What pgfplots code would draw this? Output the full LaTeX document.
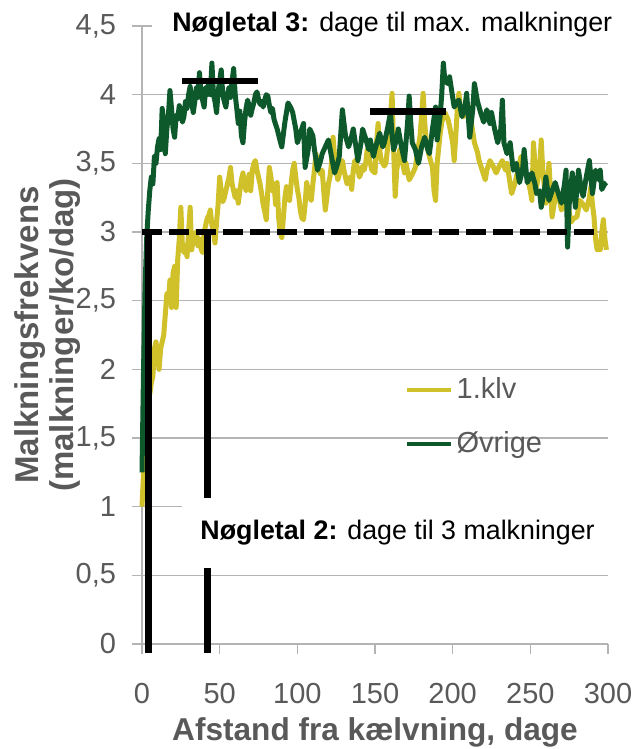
\documentclass[border=0pt]{standalone}
\usepackage{fontspec}
\setmainfont{Liberation Sans}
\usepackage{pgfplots}
\pgfplotsset{compat=1.18}

\definecolor{klv}{RGB}{208,192,42}
\definecolor{ovr}{RGB}{14,89,44}
\definecolor{gridgray}{RGB}{180,180,180}
\definecolor{labelgray}{RGB}{89,89,89}

\begin{document}
\begin{tikzpicture}
\useasboundingbox (-71bp,-52.5bp) rectangle (246.5bp,322bp);
\begin{axis}[
    at={(0,0)}, anchor=south west,
    scale only axis, width=233bp, height=309bp,
    xmin=0, xmax=300, ymin=0, ymax=4.5,
    xtick={0,50,...,300},
    ytick={0,0.5,...,4.5},
    clip=false,
    axis lines*=left,
    axis line style={gridgray, line width=0.8bp},
    ymajorgrids=true,
    grid style={gridgray, line width=0.8bp},
    tick align=outside,
    major tick length=5bp,
    tick style={gridgray, line width=0.8bp},
    /pgf/number format/use comma,
    /pgf/number format/assume math mode=true,
    ticklabel style={font=\fontsize{14.5bp}{17bp}\selectfont, text=labelgray},
    xticklabel style={anchor=base, yshift=-24.5bp},
    yticklabel style={anchor=east, xshift=-4.5bp},
    xlabel={Afstand fra kælvning, dage},
    xlabel style={font=\fontsize{15.8bp}{18bp}\selectfont\bfseries, text=labelgray,
        at={(axis description cs:0.5,-0.143)}, anchor=center},
    ylabel={Malkningsfrekvens\\(malkninger/ko/dag)},
    ylabel style={font=\fontsize{16.5bp}{17.5bp}\selectfont\bfseries, text=labelgray,
        align=center, at={(axis description cs:-0.2028,0.5)}, anchor=center},
    legend style={at={(axis cs:165,2.0)}, anchor=north west, draw=none, fill=none,
        font=\fontsize{14.5bp}{17bp}\selectfont, text=labelgray, row sep=11bp},
    legend cell align=left,
    legend image code/.code={\draw[#1, line width=2bp] (0bp,0bp) -- (22bp,0bp);},
]

% 1.klv
\addplot[klv, line width=2.5bp, line join=round] coordinates {
(0,1.0) (1,1.25) (2,1.55) (3,1.75) (4,1.85) (5,1.82) (6,1.9) (7,1.95) (8,2.15) (9,2.2)
(10,2.1) (11,2.0) (12,2.15) (13,2.2) (14,2.25) (15,2.4) (16,2.55) (17,2.5) (18,2.65) (19,2.45)
(20,2.7) (21,2.75) (22,2.45) (23,2.8) (24,2.95) (25,3.18) (26,2.9) (27,2.85) (28,2.9) (29,2.82)
(30,3.0) (31,3.18) (32,2.87) (33,2.95) (34,2.92) (35,3.0) (36,2.9) (37,2.95) (38,2.88) (39,2.85)
(40,3.0) (41,3.05) (42,3.1) (43,3.12) (44,3.16) (45,3.05) (46,3.0) (47,2.92) (48,3.07) (49,3.2)
(50,3.4) (51,3.3) (52,3.22) (53,3.25) (54,3.3) (55,3.35) (56,3.4) (57,3.47) (58,3.35) (59,3.3)
(60,3.25) (61,3.3) (62,3.21) (63,3.3) (64,3.38) (65,3.43) (66,3.35) (67,3.3) (68,3.35) (69,3.42)
(70,3.3) (71,3.45) (72,3.5) (73,3.52) (74,3.45) (75,3.4) (76,3.35) (77,3.28) (78,3.2) (79,3.15)
(80,3.09) (81,3.3) (82,3.47) (83,3.4) (84,3.3) (85,3.35) (86,3.2) (87,3.36) (88,3.1) (89,3.0)
(90,2.96) (91,3.1) (92,3.25) (93,3.33) (94,3.28) (95,3.23) (96,3.35) (97,3.45) (98,3.5) (99,3.4)
(100,3.31) (101,3.25) (102,3.15) (103,3.1) (104,3.09) (105,3.2) (106,3.36) (107,3.3) (108,3.25) (109,3.23)
(110,3.35) (111,3.45) (112,3.57) (113,3.5) (114,3.45) (115,3.42) (116,3.45) (117,3.3) (118,3.16) (119,3.25)
(120,3.35) (121,3.4) (122,3.5) (123,3.69) (124,3.55) (125,3.45) (126,3.38) (127,3.42) (128,3.48) (129,3.52)
(130,3.45) (131,3.4) (132,3.35) (133,3.38) (134,3.4) (135,3.31) (136,3.45) (137,3.52) (138,3.5) (139,3.45)
(140,3.4) (141,3.43) (142,3.48) (143,3.45) (144,3.5) (145,3.6) (146,3.55) (147,3.5) (148,3.45) (150,3.43)
(151,3.65) (152,3.79) (153,3.6) (154,3.52) (156,3.48) (157,3.5) (158,3.6) (159,3.75) (160,3.85) (161,4.01)
(162,3.6) (163,3.26) (164,3.45) (166,3.6) (167,3.55) (169,3.43) (170,3.5) (172,3.38) (174,3.42) (176,3.47)
(177,3.55) (179,3.7) (180,3.85) (181,4.01) (182,3.8) (183,3.65) (185,3.55) (187,3.47) (188,3.3) (189,3.23)
(190,3.5) (192,3.72) (193,3.8) (195,3.87) (197,3.82) (198,3.77) (200,3.65) (201,3.52) (202,3.7) (203,3.9)
(204,4.01) (205,3.9) (207,3.84) (209,3.88) (211,3.91) (212,3.8) (214,3.65) (216,3.58) (217,3.52) (219,3.45)
(221,3.38) (222,3.45) (224,3.52) (226,3.48) (228,3.43) (230,3.48) (232,3.52) (234,3.45) (235,3.5) (237,3.35)
(238,3.28) (240,3.35) (241,3.4) (243,3.5) (244,3.55) (246,3.45) (248,3.4) (250,3.3) (251,3.23) (252,3.65)
(253,3.5) (254,3.33) (256,3.45) (257,3.67) (258,3.45) (260,3.21) (261,3.35) (262,3.5) (263,3.3) (264,3.11)
(266,3.25) (267,3.31) (269,3.22) (270,3.16) (272,3.2) (273,3.26) (275,3.15) (276,3.07) (278,3.1) (280,3.11)
(282,3.23) (284,3.2) (286,3.16) (288,3.25) (289,3.33) (290,3.2) (291,3.11) (292,2.95) (293,2.87) (294,2.88)
(295,2.87) (296,3.0) (297,3.09) (298,2.95) (299,2.87)
};
\addlegendentry{1.klv}

% Øvrige
\addplot[ovr, line width=2.5bp, line join=round] coordinates {
(0,1.25) (1,2.0) (2,2.6) (3,2.95) (4,3.15) (5,3.3) (6,3.4) (7,3.35) (8,3.55) (9,3.5)
(10,3.62) (11,3.68) (12,3.6) (13,3.9) (14,3.8) (15,3.57) (16,3.75) (17,3.85) (18,4.03) (19,3.9)
(20,3.75) (21,3.69) (22,3.85) (23,3.82) (24,3.92) (25,3.88) (26,3.8) (27,3.84) (28,3.95) (29,3.9)
(30,4.0) (31,4.06) (32,3.95) (33,3.87) (34,3.95) (35,4.05) (36,3.98) (37,4.16) (38,4.0) (39,3.96)
(40,3.91) (41,4.05) (42,4.0) (43,4.1) (44,4.0) (45,4.23) (46,4.0) (47,3.95) (48,3.87) (49,4.02)
(50,4.1) (51,4.18) (52,4.0) (53,3.95) (54,3.91) (55,4.0) (56,4.05) (57,3.98) (58,4.1) (59,4.19)
(60,4.0) (61,3.9) (62,3.79) (63,3.88) (64,3.7) (65,3.65) (66,3.8) (67,3.9) (68,3.96) (69,3.92)
(70,3.85) (71,3.9) (72,3.94) (73,4.0) (74,4.02) (75,3.97) (76,3.93) (77,3.95) (78,3.91) (79,3.96)
(80,4.0) (81,3.99) (82,3.92) (83,3.87) (84,3.9) (85,3.82) (87,3.75) (89,3.66) (90,3.62) (92,3.8)
(94,3.94) (96,3.9) (97,3.87) (99,3.75) (100,3.65) (102,3.72) (104,3.79) (105,3.47) (107,3.6) (108,3.75)
(110,3.7) (111,3.6) (113,3.45) (115,3.52) (116,3.57) (118,3.62) (120,3.67) (122,3.55) (124,3.43) (126,3.5)
(127,3.55) (129,3.89) (131,3.7) (133,3.62) (135,3.7) (136,3.75) (138,3.6) (139,3.52) (141,3.65) (142,3.75)
(144,3.68) (146,3.6) (147,3.67) (149,3.55) (150,3.6) (152,3.68) (153,3.72) (155,3.62) (156,3.65) (158,3.75)
(160,3.87) (161,3.7) (162,3.6) (164,3.68) (165,3.75) (167,3.62) (169,3.52) (171,3.8) (172,3.99) (173,3.8)
(174,3.65) (176,3.6) (178,3.5) (180,3.62) (182,3.69) (184,3.6) (185,3.57) (187,3.75) (189,3.91) (190,3.67)
(192,3.85) (193,4.01) (194,4.23) (195,4.1) (197,4.08) (198,4.13) (200,3.98) (201,3.91) (203,3.95) (204,3.96)
(206,3.84) (208,3.92) (209,4.01) (211,3.69) (213,3.9) (214,4.08) (216,3.95) (218,3.87) (220,3.8) (222,3.89)
(224,3.79) (225,3.87) (227,3.75) (229,3.65) (231,3.75) (232,3.96) (233,3.65) (235,3.57) (237,3.65) (239,3.45)
(241,3.5) (243,3.36) (245,3.45) (246,3.6) (248,3.36) (250,3.4) (251,3.43) (253,3.35) (254,3.28) (256,3.3)
(257,3.18) (259,3.3) (260,3.4) (262,3.23) (264,3.3) (266,3.36) (268,3.28) (270,3.21) (272,3.35) (273,3.45)
(274,2.89) (275,3.2) (277,3.43) (279,3.18) (281,3.45) (283,3.3) (284,3.26) (286,3.4) (288,3.52) (290,3.28)
(292,3.45) (294,3.38) (295,3.45) (296,3.31) (298,3.35) (299,3.36)
};
\addlegendentry{Øvrige}

% Nøgletal-markeringer
\addplot[black, line width=3bp, dash pattern=on 10bp off 3.5bp, forget plot]
    coordinates {(0,3) (293.5,3)};
\addplot[black, line width=3.5bp, forget plot] coordinates {(4,-0.066) (4,3.02)};
\addplot[black, line width=3.5bp, forget plot] coordinates {(42.3,-0.066) (42.3,3.02)};
\addplot[black, line width=3.2bp, forget plot] coordinates {(25.8,4.10) (74.7,4.10)};
\addplot[black, line width=3.2bp, forget plot] coordinates {(146.8,3.877) (195.5,3.877)};

\node[fill=white, anchor=west, inner xsep=10bp, inner ysep=6bp,
      font=\fontsize{13.4bp}{16bp}\selectfont]
    at (axis cs:6.4,4.508) {\textbf{Nøgletal 3:} dage til max. malkninger};
\node[fill=white, anchor=west, inner xsep=9bp, inner ysep=11bp,
      font=\fontsize{13.4bp}{16bp}\selectfont]
    at (axis cs:25.8,0.808) {\textbf{Nøgletal 2:} dage til 3 malkninger};
\end{axis}
\end{tikzpicture}
\end{document}
